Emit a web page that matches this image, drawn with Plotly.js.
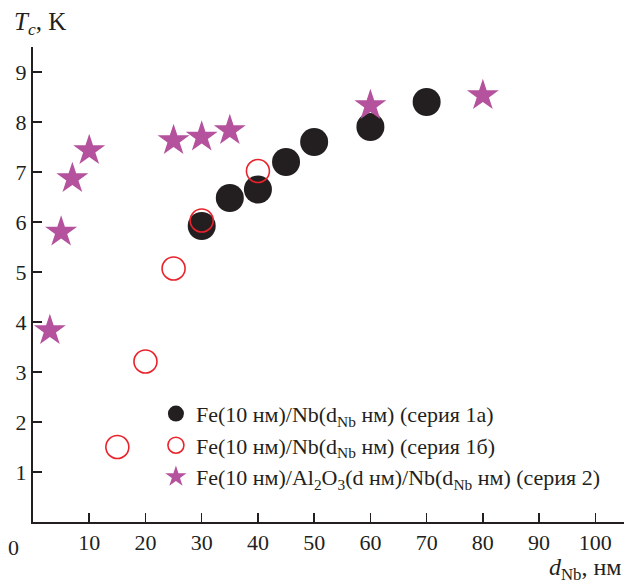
<!DOCTYPE html>
<html>
<head>
<meta charset="utf-8">
<script src="https://cdn.plot.ly/plotly-3.0.1.min.js"></script>
<style>html,body{margin:0;padding:0;background:#fff;}#chart{width:624px;height:585px;}</style>
</head>
<body>
<div id="chart"></div>
<script>
// Series 1a: Fe(10 nm)/Nb(dNb nm), filled black circles
const x1a = [30, 35, 40, 45, 50, 60, 70];
const y1a = [5.92, 6.48, 6.65, 7.2, 7.6, 7.9, 8.4];
// Series 1b: open red circles
const x1b = [15, 20, 25, 30, 40];
const y1b = [1.5, 3.21, 5.07, 6.03, 7.02];
// Series 2: Fe/Al2O3/Nb, purple stars
const x2 = [3, 5, 7, 10, 25, 30, 35, 60, 80];
const y2 = [3.83, 5.8, 6.87, 7.43, 7.63, 7.7, 7.83, 8.33, 8.53];

const xTicks = [10, 20, 30, 40, 50, 60, 70, 80, 90, 100];
const yTicks = [1, 2, 3, 4, 5, 6, 7, 8, 9];

const names = [
  'Fe(10 нм)/Nb(d<sub>Nb</sub> нм) (серия 1а)',
  'Fe(10 нм)/Nb(d<sub>Nb</sub> нм) (серия 1б)',
  'Fe(10 нм)/Al<sub>2</sub>O<sub>3</sub>(d нм)/Nb(d<sub>Nb</sub> нм) (серия 2)'
];

const ink = '#231f20';
const serif = "'Liberation Serif', 'Times New Roman', Times, serif";

const traces = [
  {x: x1a, y: y1a, name: names[0], type: 'scatter', mode: 'markers', legendgroup: 'a',
   marker: {symbol: 'circle', size: 28, color: ink}},
  {x: x1b, y: y1b, name: names[1], type: 'scatter', mode: 'markers', legendgroup: 'b',
   marker: {symbol: 'circle-open', size: 23, color: '#e8232b', line: {width: 1.6, color: '#e8232b'}}},
  {x: x2, y: y2, name: names[2], type: 'scatter', mode: 'markers', legendgroup: 'c',
   marker: {symbol: 'star', size: 24, color: '#b5529d', line: {width: 0}}}
];

const layout = {
  width: 624, height: 585,
  margin: {l: 33, r: 0, t: 47, b: 63},
  paper_bgcolor: '#fff', plot_bgcolor: '#fff',
  font: {family: serif, color: ink, size: 21},
  showlegend: true,
  legend: {
    x: 0.208, xref: 'paper', y: 0.272, yanchor: 'top',
    font: {family: serif, size: 22, color: ink},
    bgcolor: 'rgba(0,0,0,0)', traceorder: 'grouped', tracegroupgap: 0
  },
  xaxis: {
    range: [0, 105.1], showgrid: false, zeroline: false,
    showline: true, linecolor: ink, linewidth: 2,
    ticks: 'inside', ticklen: 9, tickwidth: 1.5, tickcolor: ink,
    tickvals: xTicks, ticktext: xTicks.map(String),
    tickfont: {family: serif, size: 22, color: ink}
  },
  yaxis: {
    range: [0, 9.5], showgrid: false, zeroline: false,
    showline: true, linecolor: ink, linewidth: 2,
    ticks: 'inside', ticklen: 9, tickwidth: 1.5, tickcolor: ink,
    tickvals: yTicks, ticktext: yTicks.map(String),
    tickfont: {family: serif, size: 22, color: ink}
  },
  annotations: [
    {text: '<i>T</i><sub><i>c</i></sub>, K', xref: 'paper', yref: 'paper', x: -0.035, y: 1.0, yshift: 6,
     xanchor: 'left', yanchor: 'bottom', showarrow: false, font: {family: serif, size: 25, color: ink}},
    {text: '<i>d</i><sub>Nb</sub>, нм', xref: 'paper', yref: 'paper', x: 1.0, y: 0, yshift: -30,
     xanchor: 'right', yanchor: 'top', showarrow: false, font: {family: serif, size: 24, color: ink}},
    {text: '0', xref: 'paper', yref: 'paper', x: -0.033, y: 0, yshift: -11,
     xanchor: 'center', yanchor: 'top', showarrow: false, font: {family: serif, size: 22, color: ink}}
  ]
};

Plotly.newPlot('chart', traces, layout, {displayModeBar: false, staticPlot: true});
</script>
</body>
</html>
